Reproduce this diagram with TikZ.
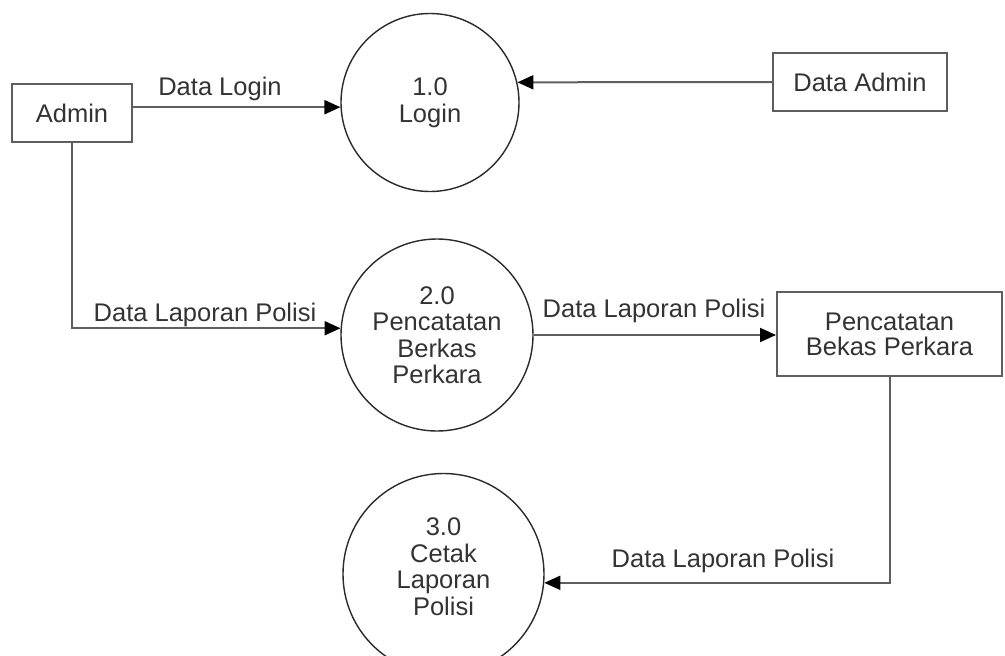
\documentclass[tikz,border=0pt]{standalone}
\usepackage{fontspec}
\setmainfont{Liberation Sans}
\usetikzlibrary{arrows.meta}
\definecolor{lin}{HTML}{5E5E5E}
\definecolor{txt}{HTML}{333333}
\definecolor{circ}{HTML}{2A2A2A}
\begin{document}
\begin{tikzpicture}[x=1pt,y=-1pt,
  font=\fontsize{25.5}{26.5}\selectfont, text=txt,
  entity/.style={draw=lin, line width=2pt, fill=white, inner sep=0pt, align=center},
  proc/.style={circle, draw=circ, line width=1.4pt, inner sep=0pt, align=center},
  flow/.style={draw=lin, line width=2pt, -{Triangle[length=16pt,width=14pt,color=black]}},
  lbl/.style={anchor=base, inner sep=0pt}]
\useasboundingbox (0,0) rectangle (1005,656);
\clip (0,0) rectangle (1005,656);
% entities
\node[entity, minimum width=120pt, minimum height=58pt] (admin) at (72,113) {Admin};
\node[entity, minimum width=174pt, minimum height=58pt] (dadmin) at (860,82) {Data Admin};
\node[entity, minimum width=225pt, minimum height=84pt, font=\fontsize{25.5}{25}\selectfont] (pb) at (889.5,334) {Pencatatan\\Bekas Perkara};
% processes
\node[proc, minimum size=178pt] (p1) at (430,102.5) {1.0\\Login};
\node[proc, minimum size=192pt] (p2) at (437,335) {2.0\\Pencatatan\\Berkas\\Perkara};
\node[proc, minimum size=201pt, text depth=15pt] (p3) at (443.5,574) {3.0\\Cetak\\Laporan\\Polisi};
% flows
\draw[flow] (admin.east |- p1.183) -- (p1.183);
\draw[flow] (dadmin.west) -- (p1.13);
\draw[flow] (admin.south) |- (p2.176);
\draw[flow] (p2.east) -- (p2.east -| pb.west);
\draw[flow] (pb.south) |- (p3.-5);
% labels
\node[lbl] (l1) at (220,95) {Data Login};
\node[lbl] (l2) at (205,321) {Data Laporan Polisi};
\node[lbl] (l3) at (654,317) {Data Laporan Polisi};
\node[lbl] (l4) at (723,567) {Data Laporan Polisi};
\end{tikzpicture}
\end{document}
